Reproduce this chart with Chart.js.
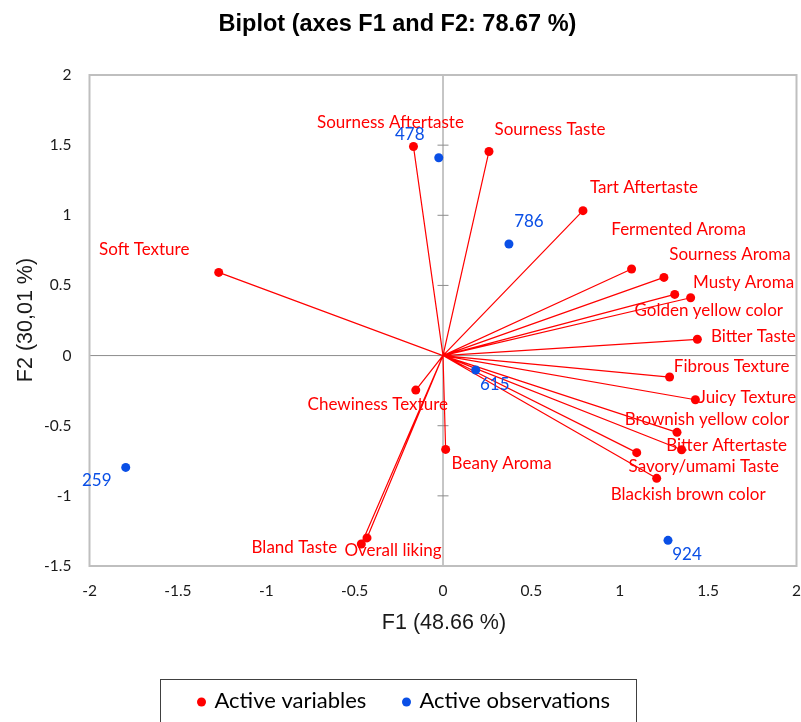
<!DOCTYPE html>
<html>
<head>
<meta charset="utf-8">
<script src="https://cdn.jsdelivr.net/npm/chart.js@4.4.1/dist/chart.umd.min.js"></script>
<style>
  html, body { margin: 0; padding: 0; background: #ffffff; }
  #wrap { width: 801px; height: 722px; }
</style>
</head>
<body>
<div id="wrap"><canvas id="c" width="801" height="722"></canvas></div>
<script>
// ---------- data ----------
const varNames = ["Sourness Aftertaste","Sourness Taste","Tart Aftertaste","Fermented Aroma","Sourness Aroma","Musty Aroma","Golden yellow color","Bitter Taste","Fibrous Texture","Juicy Texture","Brownish yellow color","Bitter Aftertaste","Savory/umami Taste","Blackish brown color","Beany Aroma","Chewiness Texture","Bland Taste","Overall liking","Soft Texture"];
const varF1 = [-0.167, 0.260, 0.792, 1.067, 1.250, 1.401, 1.311, 1.439, 1.282, 1.428, 1.324, 1.350, 1.096, 1.209, 0.015, -0.154, -0.462, -0.430, -1.269];
const varF2 = [1.490, 1.455, 1.033, 0.617, 0.557, 0.412, 0.436, 0.116, -0.153, -0.315, -0.547, -0.671, -0.692, -0.875, -0.669, -0.246, -1.343, -1.300, 0.593];

const obsNames = ["478","786","615","259","924"];
const obsF1 = [-0.024, 0.373, 0.185, -1.795, 1.273];
const obsF2 = [1.410, 0.795, -0.103, -0.797, -1.317];

const xTicks = [-2, -1.5, -1, -0.5, 0, 0.5, 1, 1.5, 2];
const yTicks = [-1.5, -1, -0.5, 0, 0.5, 1, 1.5, 2];

const titleText = "Biplot (axes F1 and F2: 78.67 %)";
const xTitle = "F1 (48.66 %)";
const yTitle = "F2 (30,01 %)";

// ---------- styles (label offsets in px, relative to point) ----------
const varLabelOffsets = [[-23,-24],[61,-22],[61,-23],[47,-39],[66,-23],[53,-15],[34,16],[56,-3],[62,-11],[52,-2],[30,-13],[45,-4],[67,14],[31.5,16],[56,14],[-38,14],[-67,4],[26,13],[-74.5,-23]];
const obsLabelOffsets = [[-29,-23],[20,-23],[19,14],[-29,13],[19,14]];

const RED = "#FF0000";
const BLUE = "#0A4FE6";
const LABEL_FONT = "17px Lato, 'Open Sans', sans-serif";

// vectors: origin -> each variable
const vectorData = [];
varF1.forEach((x, i) => { vectorData.push({x: 0, y: 0}); vectorData.push({x: x, y: varF2[i]}); });

const plotDecor = {
  id: 'plotDecor',
  beforeDatasetsDraw(chart) {
    const {ctx, chartArea: a, scales: {x, y}} = chart;
    ctx.save();
    const x0 = x.getPixelForValue(0), y0 = y.getPixelForValue(0);
    ctx.strokeStyle = "#8C8C8C";
    ctx.lineWidth = 1;
    ctx.beginPath();
    ctx.moveTo(x0, a.top); ctx.lineTo(x0, a.bottom);
    ctx.moveTo(a.left, y0); ctx.lineTo(a.right, y0);
    yTicks.forEach(v => { const p = y.getPixelForValue(v); ctx.moveTo(x0 - 5.5, p); ctx.lineTo(x0 + 5.5, p); });
    ctx.stroke();
    ctx.strokeStyle = "#BFBFBF";
    ctx.lineWidth = 2;
    ctx.strokeRect(a.left, a.top, a.right - a.left, a.bottom - a.top);
    ctx.restore();
  },
  afterDraw(chart) {
    const {ctx, chartArea: a} = chart;
    ctx.save();
    // title
    ctx.fillStyle = "#000";
    ctx.font = "bold 23.5px 'Liberation Sans', Arial, sans-serif";
    ctx.textAlign = "center"; ctx.textBaseline = "alphabetic";
    ctx.fillText(titleText, 397.5, 31);
    // axis titles
    ctx.font = "21.5px 'Liberation Sans', Arial, sans-serif";
    ctx.fillStyle = "#1a1a1a";
    ctx.fillText(xTitle, 444, 628.5);
    ctx.textBaseline = "middle";
    ctx.translate(26, 320);
    ctx.rotate(-Math.PI / 2);
    ctx.fillText(yTitle, 0, 0);
    ctx.restore();

    // legend
    ctx.save();
    ctx.strokeStyle = "#404040"; ctx.lineWidth = 1;
    ctx.strokeRect(160.5, 679.5, 476, 60);
    const items = chart.data.datasets.filter(d => d.inLegend);
    const starts = [201.5, 406.5];
    ctx.font = "22px Lato, 'Open Sans', sans-serif";
    ctx.textAlign = "left"; ctx.textBaseline = "middle";
    items.forEach((d, i) => {
      ctx.fillStyle = d.backgroundColor;
      ctx.beginPath(); ctx.arc(starts[i], 702, 4.5, 0, Math.PI * 2); ctx.fill();
      ctx.fillStyle = "#000";
      ctx.fillText(d.label, starts[i] + 13, 701);
    });
    ctx.restore();
  },
  afterDatasetsDraw(chart) {
    const {ctx} = chart;
    ctx.save();
    ctx.font = LABEL_FONT;
    ctx.textAlign = "center"; ctx.textBaseline = "middle";
    chart.data.datasets.forEach((d, di) => {
      if (!d.pointLabels) return;
      const meta = chart.getDatasetMeta(di);
      ctx.fillStyle = d.backgroundColor;
      meta.data.forEach((el, i) => {
        const off = d.labelOffsets[i];
        ctx.fillText(d.pointLabels[i], el.x + off[0], el.y + off[1]);
      });
    });
    ctx.restore();
  }
};

new Chart(document.getElementById('c'), {
  type: 'scatter',
  data: {
    datasets: [
      { label: 'vectors', data: vectorData, showLine: true, borderColor: RED, borderWidth: 1.2,
        pointRadius: 0, pointHoverRadius: 0, order: 3, inLegend: false },
      { label: 'Active variables', data: varF1.map((x, i) => ({x: x, y: varF2[i]})),
        backgroundColor: RED, borderColor: RED, pointRadius: 4.5, borderWidth: 0, order: 2,
        inLegend: true, pointLabels: varNames, labelOffsets: varLabelOffsets },
      { label: 'Active observations', data: obsF1.map((x, i) => ({x: x, y: obsF2[i]})),
        backgroundColor: BLUE, borderColor: BLUE, pointRadius: 4.5, borderWidth: 0, order: 1,
        inLegend: true, pointLabels: obsNames, labelOffsets: obsLabelOffsets }
    ]
  },
  options: {
    responsive: false,
    animation: false,
    layout: { padding: { top: 75, left: 0, right: 4, bottom: 0 } },
    plugins: { legend: { display: false }, title: { display: false }, tooltip: { enabled: false } },
    scales: {
      x: {
        type: 'linear', min: -2, max: 2,
        afterBuildTicks: s => { s.ticks = xTicks.map(v => ({value: v})); },
        afterFit: s => { s.height = 156; s.paddingLeft = 0; s.paddingRight = 0; },
        grid: { display: false, drawTicks: false },
        border: { display: false },
        ticks: { color: "#1a1a1a", font: { family: "Lato, 'Open Sans', sans-serif", size: 15.5 }, padding: 16, maxRotation: 0,
                 callback: v => String(v) }
      },
      y: {
        type: 'linear', min: -1.5, max: 2,
        afterBuildTicks: s => { s.ticks = yTicks.map(v => ({value: v})); },
        afterFit: s => { s.width = 89.5; s.paddingTop = 0; s.paddingBottom = 0; },
        grid: { display: false, drawTicks: false },
        border: { display: false },
        ticks: { color: "#1a1a1a", font: { family: "Lato, 'Open Sans', sans-serif", size: 15.5 }, padding: 18,
                 callback: v => String(v) }
      }
    }
  },
  plugins: [plotDecor]
});
</script>
</body>
</html>
